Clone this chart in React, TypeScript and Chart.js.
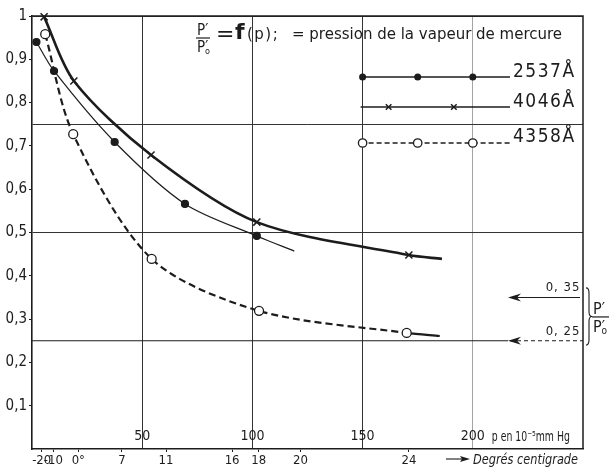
import { useEffect, useRef } from 'react';
import { Chart, registerables } from 'chart.js';

Chart.register(...registerables);

// ---- data (p in 10^-5 mm Hg, ratio P'/P'0) ----
const P_2537 = [2, 10, 37.5, 69.4, 102, 119];
const V_2537 = [0.94, 0.873, 0.709, 0.566, 0.492, 0.457];
const MARK_2537 = [true, true, true, true, true, false];

const P_4046 = [5.5, 19, 54, 102, 171, 186];
const V_4046 = [0.998, 0.85, 0.679, 0.524, 0.448, 0.439];
const MARK_4046 = [true, true, true, true, true, false];

const P_4358 = [6, 18.7, 54.3, 103, 170, 185];
const V_4358 = [0.958, 0.727, 0.439, 0.319, 0.268, 0.261];
const MARK_4358 = [true, true, true, true, true, false];

const Y_TICKS = [0.1, 0.2, 0.3, 0.4, 0.5, 0.6, 0.7, 0.8, 0.9, 1];
const Y_LABELS = ['0,1', '0,2', '0,3', '0,4', '0,5', '0,6', '0,7', '0,8', '0,9', '1'];
const Y_RULES = [0.25, 0.5, 0.75, 1];

const P_TICKS = [50, 100, 150, 200];
const P_LABELS = ['50', '100', '150', '200'];

const TEMP_P = [4.4, 9.7, 21, 40.8, 60.8, 90.8, 102.9, 121.8, 171];
const TEMP_LABELS = ['-20', '-10', '0°', '7', '11', '16', '18', '20', '24'];

const LEGEND_NAMES = ['2537Å', '4046Å', '4358Å'];
const ARROW_VALUES = [0.35, 0.25];
const ARROW_LABELS = ['0, 35', '0, 25'];

const TITLE_TEXT = '= pression de la vapeur de mercure';
const P_UNIT = 'p en 10⁻⁵mm Hg';
const TEMP_UNIT = 'Degrés centigrade';

const INK = '#1c1c1c';
const FONT = "'DejaVu Sans Condensed', 'DejaVu Sans', sans-serif";
const TFONT = "'DejaVu Sans', sans-serif";

const near = (a: number, b: number) => Math.abs(a - b) < 1e-6;

function toPoints(ps: number[], vs: number[]) {
  return ps.map((p, i) => ({ x: p, y: vs[i] }));
}

function drawMarker(ctx: CanvasRenderingContext2D, kind: string, x: number, y: number, r: number) {
  ctx.save();
  ctx.strokeStyle = INK;
  ctx.fillStyle = INK;
  ctx.setLineDash([]);
  if (kind === 'dot') {
    ctx.beginPath();
    ctx.arc(x, y, r, 0, Math.PI * 2);
    ctx.fill();
  } else if (kind === 'cross') {
    ctx.lineWidth = 1.5;
    ctx.beginPath();
    ctx.moveTo(x - r, y - r);
    ctx.lineTo(x + r, y + r);
    ctx.moveTo(x + r, y - r);
    ctx.lineTo(x - r, y + r);
    ctx.stroke();
  } else {
    ctx.fillStyle = '#fff';
    ctx.lineWidth = 1.3;
    ctx.beginPath();
    ctx.arc(x, y, r, 0, Math.PI * 2);
    ctx.fill();
    ctx.stroke();
  }
  ctx.restore();
}

function drawFrac(ctx: CanvasRenderingContext2D, x: number, barY: number, w: number, size: number) {
  ctx.save();
  ctx.fillStyle = INK;
  ctx.strokeStyle = INK;
  ctx.textAlign = 'left';
  ctx.textBaseline = 'alphabetic';
  ctx.font = `${size}px ${FONT}`;
  ctx.fillText('P′', x + 1, barY - 3);
  ctx.lineWidth = 1.2;
  ctx.beginPath();
  ctx.moveTo(x, barY);
  ctx.lineTo(x + w, barY);
  ctx.stroke();
  ctx.fillText('P′', x + 1, barY + size - 1);
  ctx.font = `${Math.round(size * 0.6)}px ${FONT}`;
  ctx.fillText('o', x + size * 0.6, barY + size + 1);
  ctx.restore();
}

function narrowText(ctx: CanvasRenderingContext2D, text: string, x: number, y: number, font: string, sx: number) {
  ctx.save();
  ctx.translate(x, y);
  ctx.scale(sx, 1);
  ctx.font = font;
  ctx.textAlign = 'left';
  ctx.textBaseline = 'alphabetic';
  ctx.fillText(text, 0, 0);
  ctx.restore();
}

const decoPlugin = {
  id: 'deco',
  afterDatasetsDraw(chart: any) {
    const { ctx, chartArea: a, scales } = chart;
    const x = scales.x;
    const y = scales.y;
    ctx.save();
    ctx.strokeStyle = INK;
    ctx.fillStyle = INK;

    // frame (top & right)
    ctx.lineWidth = 1.5;
    ctx.beginPath();
    ctx.moveTo(a.left, a.top);
    ctx.lineTo(a.right, a.top);
    ctx.lineTo(a.right, a.bottom);
    ctx.stroke();

    // title
    drawFrac(ctx, a.left + 164, a.top + 22, 14, 15);
    ctx.textBaseline = 'alphabetic';
    ctx.textAlign = 'left';
    ctx.font = `22px ${TFONT}`;
    ctx.fillText('=', a.left + 184, a.top + 25);
    ctx.font = `bold 22px ${TFONT}`;
    ctx.fillText('f', a.left + 203, a.top + 23);
    ctx.save();
    ctx.font = `15px ${TFONT}`;
    (ctx as any).letterSpacing = '1.5px';
    ctx.fillText('(p);', a.left + 215, a.top + 23);
    ctx.restore();
    ctx.font = `15px ${TFONT}`;
    ctx.fillText(TITLE_TEXT, a.left + 260, a.top + 23);

    // p tick labels inside the plot
    ctx.save();
    ctx.font = `14px ${FONT}`;
    ctx.textAlign = 'center';
    ctx.textBaseline = 'middle';
    P_TICKS.forEach((v, i) => {
      ctx.fillText(P_LABELS[i], x.getPixelForValue(v), a.bottom - 13);
    });
    ctx.restore();

    // legend
    const rows = [a.top + 61, a.top + 91, a.top + 127];
    const lx0 = x.getPixelForValue(150) - 2;
    const lx1 = a.right - 73;
    const kinds = ['dot', 'cross', 'circle'];
    rows.forEach((ry, i) => {
      ctx.save();
      ctx.lineWidth = 1.3;
      ctx.setLineDash(i === 2 ? [5, 3] : []);
      ctx.beginPath();
      ctx.moveTo(lx0, ry);
      ctx.lineTo(lx1, ry);
      ctx.stroke();
      ctx.restore();
      const marks = i === 1 ? [161.8, 191.4] : [150, 175, 200];
      marks.forEach((mp) => drawMarker(ctx, kinds[i], x.getPixelForValue(mp), ry, i === 0 ? 3.5 : i === 1 ? 2.8 : 4.2));
      ctx.save();
      ctx.font = `19px ${FONT}`;
      (ctx as any).letterSpacing = '1.5px';
      ctx.textAlign = 'left';
      ctx.textBaseline = 'alphabetic';
      ctx.fillText(LEGEND_NAMES[i], lx1 + 3, ry + (i === 2 ? -1 : 0));
      ctx.restore();
    });

    // arrows at right
    ARROW_VALUES.forEach((v, i) => {
      const py = y.getPixelForValue(v);
      const tip = a.right - 75;
      ctx.save();
      ctx.lineWidth = 1.1;
      if (i === 1) {
        ctx.beginPath();
        ctx.moveTo(a.left, py);
        ctx.lineTo(tip, py);
        ctx.stroke();
        ctx.setLineDash([4, 3]);
      }
      ctx.beginPath();
      ctx.moveTo(tip + 2, py);
      ctx.lineTo(a.right - (i === 1 ? 0 : 3), py);
      ctx.stroke();
      ctx.setLineDash([]);
      ctx.beginPath();
      ctx.moveTo(tip, py);
      ctx.lineTo(tip + 13, py - 4);
      ctx.lineTo(tip + 9, py);
      ctx.lineTo(tip + 13, py + 4);
      ctx.closePath();
      ctx.fill();
      ctx.font = `13px ${FONT}`;
      (ctx as any).letterSpacing = '1px';
      ctx.textAlign = 'center';
      ctx.textBaseline = 'alphabetic';
      ctx.fillText(ARROW_LABELS[i], a.right - 20, py - 6);
      ctx.restore();
    });

    // brace + fraction
    const bt = y.getPixelForValue(0.372);
    const bb = y.getPixelForValue(0.24);
    const bm = (bt + bb) / 2;
    const bx = a.right + 3;
    ctx.save();
    ctx.lineWidth = 1.1;
    ctx.beginPath();
    ctx.moveTo(bx, bt);
    ctx.quadraticCurveTo(bx + 3, bt, bx + 3, bt + 5);
    ctx.lineTo(bx + 3, bm - 5);
    ctx.quadraticCurveTo(bx + 3, bm, bx + 6, bm);
    ctx.quadraticCurveTo(bx + 3, bm, bx + 3, bm + 5);
    ctx.lineTo(bx + 3, bb - 5);
    ctx.quadraticCurveTo(bx + 3, bb, bx, bb);
    ctx.stroke();
    ctx.restore();
    drawFrac(ctx, a.right + 9, y.getPixelForValue(0.305), 17, 16);

    // unit texts
    narrowText(ctx, P_UNIT, x.getPixelForValue(200) + 19, a.bottom - 8, `14px ${FONT}`, 0.74);
    const ay = a.bottom + 10;
    const ax0 = a.right - 137;
    ctx.save();
    ctx.lineWidth = 1.1;
    ctx.beginPath();
    ctx.moveTo(ax0, ay);
    ctx.lineTo(ax0 + 20, ay);
    ctx.stroke();
    ctx.beginPath();
    ctx.moveTo(ax0 + 24, ay);
    ctx.lineTo(ax0 + 14, ay - 3);
    ctx.lineTo(ax0 + 16, ay);
    ctx.lineTo(ax0 + 14, ay + 3);
    ctx.closePath();
    ctx.fill();
    ctx.restore();
    narrowText(ctx, TEMP_UNIT, ax0 + 27, ay + 5, `italic 14px ${FONT}`, 0.9);

    ctx.restore();
  },
};

export default function App() {
  const ref = useRef<HTMLCanvasElement | null>(null);

  useEffect(() => {
    document.body.style.margin = '0';
    const canvas = ref.current;
    if (!canvas) return;
    const lastIdx = P_4358.length - 2;
    const chart = new Chart(canvas, {
      type: 'line',
      data: {
        datasets: [
          {
            label: '2537Å',
            data: toPoints(P_2537, V_2537),
            borderColor: INK,
            borderWidth: 1.2,
            pointStyle: 'circle',
            pointRadius: MARK_2537.map((m) => (m ? 3.5 : 0)),
            pointBackgroundColor: INK,
            pointBorderColor: INK,
            tension: 0.3,
            fill: false,
            clip: false,
          } as any,
          {
            label: '4046Å',
            data: toPoints(P_4046, V_4046),
            borderColor: INK,
            borderWidth: 2.6,
            pointStyle: 'crossRot',
            pointRadius: MARK_4046.map((m) => (m ? 5 : 0)),
            pointBorderWidth: 1.5,
            pointBorderColor: INK,
            tension: 0.3,
            fill: false,
            clip: false,
          } as any,
          {
            label: '4358Å',
            data: toPoints(P_4358, V_4358),
            borderColor: INK,
            borderWidth: 2.2,
            pointStyle: 'circle',
            pointRadius: MARK_4358.map((m) => (m ? 4.5 : 0)),
            pointBackgroundColor: '#fff',
            pointBorderColor: INK,
            pointBorderWidth: 1.3,
            tension: 0.3,
            fill: false,
            clip: false,
            segment: {
              borderDash: (c: any) => (c.p0DataIndex >= lastIdx ? [] : [7, 4]),
            },
          } as any,
        ],
      },
      options: {
        animation: false,
        responsive: false,
        events: [],
        layout: { padding: { top: 16, right: 28, left: 0, bottom: 0 } },
        plugins: { legend: { display: false }, tooltip: { enabled: false } },
        scales: {
          x: {
            type: 'linear',
            position: 'bottom',
            min: 0,
            max: 250,
            weight: 0,
            afterBuildTicks: (s: any) => {
              s.ticks = P_TICKS.map((v) => ({ value: v }));
            },
            afterFit: (s: any) => {
              s.height = 0;
            },
            ticks: { display: false, autoSkip: false, maxRotation: 0, minRotation: 0 },
            grid: {
              drawTicks: false,
              color: (c: any) => (c.tick && near(c.tick.value, 200) ? '#9a9a9a' : '#333'),
              lineWidth: (c: any) => (c.tick && near(c.tick.value, 200) ? 0.9 : 1),
            },
            border: { display: false },
          },
          t: {
            type: 'linear',
            position: 'bottom',
            min: 0,
            max: 250,
            weight: 1,
            afterBuildTicks: (s: any) => {
              s.ticks = TEMP_P.map((v) => ({ value: v }));
            },
            afterFit: (s: any) => {
              s.height = 20;
            },
            ticks: {
              autoSkip: false,
              maxRotation: 0,
              minRotation: 0,
              padding: 1,
              color: INK,
              font: { family: FONT, size: 13 },
              callback: (_v: any, i: number) => TEMP_LABELS[i],
            },
            grid: { drawOnChartArea: false, drawTicks: true, tickLength: 3, color: INK },
            border: { display: true, color: INK, width: 1.6 },
          },
          y: {
            type: 'linear',
            min: 0,
            max: 1,
            afterBuildTicks: (s: any) => {
              const vals = [...Y_TICKS, ...Y_RULES.filter((r) => !Y_TICKS.some((t) => near(t, r)))].sort((a, b) => a - b);
              s.ticks = vals.map((v) => ({ value: v }));
            },
            afterFit: (s: any) => {
              s.width = 32;
            },
            ticks: {
              padding: 2,
              color: INK,
              font: { family: FONT, size: 15 },
              callback: (v: any) => {
                const i = Y_TICKS.findIndex((t) => near(t, v));
                return i >= 0 ? Y_LABELS[i] : '';
              },
            },
            grid: {
              tickLength: 3,
              color: (c: any) =>
                c.tick && Y_RULES.some((r) => near(r, c.tick.value)) && !near(c.tick.value, 0.25) ? '#333' : 'transparent',
              tickColor: (c: any) => (c.tick && Y_TICKS.some((t) => near(t, c.tick.value)) ? INK : 'transparent'),
              lineWidth: 1,
            },
            border: { display: true, color: INK, width: 1.6 },
          },
        },
      },
      plugins: [decoPlugin],
    } as any);
    return () => chart.destroy();
  }, []);

  return (
    <div style={{ width: 611, height: 469, background: '#fff' }}>
      <canvas ref={ref} width={611} height={469} style={{ display: 'block', width: 611, height: 469 }} />
    </div>
  );
}
